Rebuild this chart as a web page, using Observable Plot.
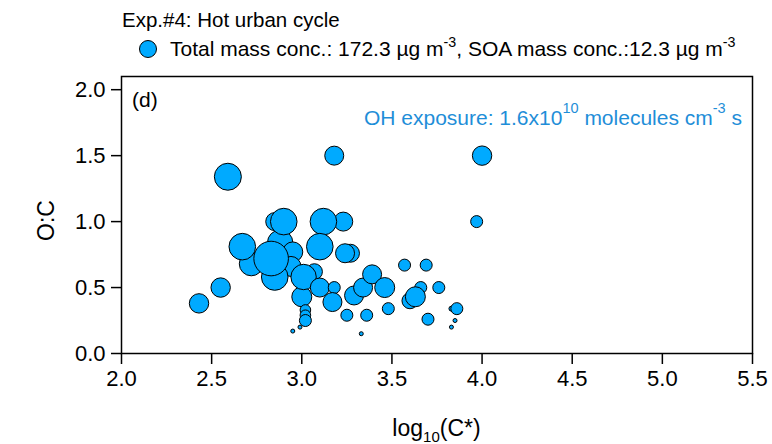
<!DOCTYPE html>
<html><head><meta charset="utf-8">
<script src="https://cdn.jsdelivr.net/npm/d3@7"></script>
<script src="https://cdn.jsdelivr.net/npm/@observablehq/plot@0.6"></script>
<style>
body{margin:0;background:#fff;font-family:Arial,"Liberation Sans",Helvetica,sans-serif;}
#wrap{position:relative;width:772px;height:444px;overflow:hidden;}
#chart{position:absolute;left:0;top:0;}
#title{position:absolute;left:122px;top:9px;font-size:20.5px;line-height:22px;white-space:nowrap;}
#legend{position:absolute;left:136px;top:37px;font-size:21px;line-height:24px;display:flex;align-items:center;white-space:nowrap;}
sup{font-size:0.68em;vertical-align:0.62em;line-height:0;}
</style></head><body>
<div id="wrap">
<div id="chart"></div>
<div id="title">Exp.#4: Hot urban cycle</div>
<div id="legend"><svg width="24" height="24"><circle cx="12" cy="12" r="8.5" fill="#00aaff" stroke="black" stroke-width="1"/></svg><span style="margin-left:10px">Total mass conc.: 172.3 µg m<sup>-3</sup>, SOA mass conc.:12.3 µg m<sup>-3</sup></span></div>
</div>
<script>
// log10(C*) values, O:C values, bubble sizes (drawing order matters)
const logC = [2.43,2.55,2.59,3.18,4.00,3.97,
  2.72,2.67,2.88,2.95,2.94,2.85,2.83,3.07,3.00,3.01,
  2.85,2.90,3.23,3.12,3.10,3.27,3.24,3.10,3.18,3.17,3.29,3.34,3.39,3.46,
  3.02,3.02,3.02,3.25,3.36,3.48,2.99,2.95,3.33,
  3.57,3.69,3.66,3.76,3.60,3.63,3.70,3.83,3.86,3.85,3.83];
const oc = [0.38,0.50,1.34,1.50,1.50,1.00,
  0.68,0.81,0.84,0.77,0.66,0.58,0.72,0.62,0.43,0.58,
  1.00,1.00,1.00,1.00,0.81,0.76,0.76,0.50,0.50,0.39,0.44,0.50,0.60,0.50,
  0.33,0.29,0.25,0.29,0.29,0.34,0.20,0.17,0.15,
  0.67,0.67,0.50,0.50,0.40,0.43,0.26,0.34,0.34,0.25,0.20];
const size = [9.7,9.7,13.5,9.5,9.7,6,
  12,13.3,12.7,10,10,13.3,17.3,8,10,12.7,
  9,13.3,9.5,13.3,13.3,9,9.5,9.5,6,9.5,9.5,9.5,9.5,10,
  5.3,5.3,6,6,6,6,2,2,2,
  6,6,6,6,8,10,6,2.5,6,2,2];
const xTicks = [2.0,2.5,3.0,3.5,4.0,4.5,5.0,5.5];
const yTicks = [0.0,0.5,1.0,1.5,2.0];

const data = logC.map((x,i)=>({x, y: oc[i], s: size[i]}));

const W = 772, H = 444, mL = 121, mR = 20, mT = 76, mB = 91;
const plot = Plot.plot({
  width: W, height: H,
  marginLeft: mL, marginRight: mR, marginTop: mT, marginBottom: mB,
  style: {fontFamily: "Arial, 'Liberation Sans', Helvetica, sans-serif", fontSize: "22px", color: "black", background: "transparent"},
  x: {domain: [2, 5.5]},
  y: {domain: [0, 2.1]},
  r: {type: "linear", domain: [0, 20], range: [0, 20]},
  marks: [
    Plot.axisX({ticks: xTicks, tickFormat: d => d.toFixed(1), tickSize: 11, tickPadding: 6, strokeWidth: 1.5, fontSize: 22, label: null}),
    Plot.axisY({ticks: yTicks, tickFormat: d => d.toFixed(1), tickSize: 10, tickPadding: 6, strokeWidth: 1.5, fontSize: 22, label: null}),
    Plot.dot(data, {x: "x", y: "y", r: "s", sort: null, fill: "#00aaff", stroke: "black", strokeWidth: 1}),
    Plot.frame({stroke: "black", strokeWidth: 1.5})
  ]
});
document.getElementById("chart").appendChild(plot);

const svg = d3.select(plot);
// y label
svg.append("text")
  .attr("transform", `translate(48,${(mT + H - mB)/2 + 6}) rotate(-90)`)
  .attr("text-anchor", "middle").attr("dominant-baseline", "middle")
  .attr("font-size", 23).attr("fill", "black").text("O:C");
// x label with subscript
const xl = svg.append("text")
  .attr("x", mL + (W - mL - mR)/2).attr("y", 436)
  .attr("text-anchor", "middle").attr("font-size", 23).attr("fill", "black");
xl.append("tspan").text("log");
xl.append("tspan").attr("font-size", 15).attr("dy", 6).text("10");
xl.append("tspan").attr("dy", -6).text("(C*)");
// panel letter
svg.append("text").attr("x", mL + 11).attr("y", mT + 31)
  .attr("text-anchor", "start")
  .attr("font-size", 21).attr("fill", "black").text("(d)");
// OH exposure annotation
const oh = svg.append("text")
  .attr("x", W - mR - 10).attr("y", mT + 49)
  .attr("text-anchor", "end").attr("font-size", 21).attr("fill", "#1f8ed8");
oh.append("tspan").text("OH exposure: 1.6x10");
oh.append("tspan").attr("font-size", 14.5).attr("dy", -12).text("10");
oh.append("tspan").attr("dy", 12).text(" molecules cm");
oh.append("tspan").attr("font-size", 14.5).attr("dy", -12).text("-3");
oh.append("tspan").attr("dy", 12).text(" s");
</script>
</body></html>
